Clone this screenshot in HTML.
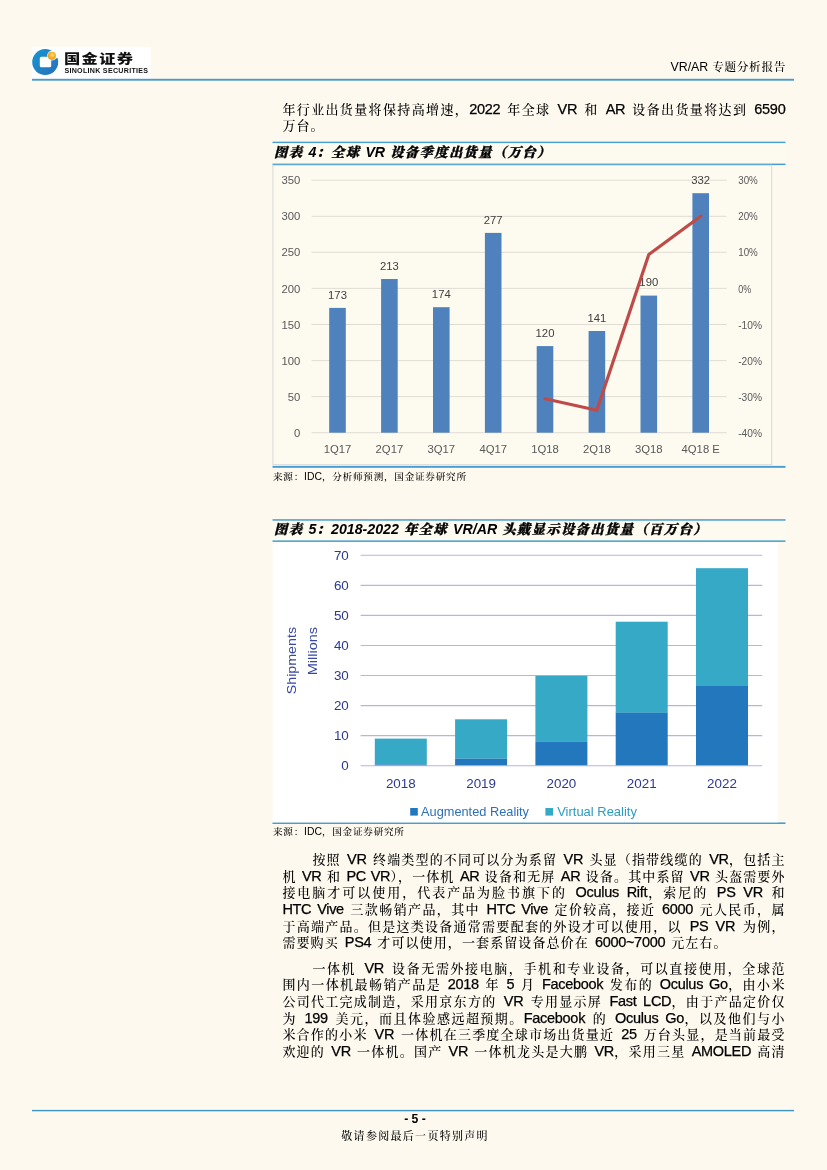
<!DOCTYPE html>
<html lang="zh-CN">
<head>
<meta charset="utf-8">
<title>VR/AR 专题分析报告</title>
<style>
html,body{margin:0;padding:0;}
body{width:827px;height:1170px;position:relative;overflow:hidden;background:#FDF9EE;
  font-family:"Liberation Sans","Noto Serif CJK SC",serif;color:#000;}
#gfx{position:absolute;left:0;top:0;width:827px;height:1170px;}
.t{position:absolute;white-space:nowrap;}
.ln{position:absolute;left:282.4px;width:503px;height:17px;line-height:17px;font-size:13px;font-weight:500;letter-spacing:0.9px;
  text-align:justify;text-align-last:justify;white-space:nowrap;color:#000;}
.ln .e{font-size:14.5px;letter-spacing:-0.3px;font-weight:400;-webkit-text-stroke:0.25px #000;}
.ln.ind{left:312.4px;width:473px;}
.cap{position:absolute;left:274px;font-size:13.4px;font-weight:900;font-style:italic;line-height:16px;white-space:nowrap;letter-spacing:1.3px;
  font-family:"Liberation Sans","Noto Serif CJK SC",serif;color:#000;-webkit-text-stroke:0.35px #000;}
.cap .e{-webkit-text-stroke:0;font-size:14.2px;letter-spacing:0;font-weight:700;}
.src{position:absolute;left:273px;font-size:9.6px;font-weight:500;letter-spacing:0.75px;line-height:12px;white-space:nowrap;color:#000;}
.src .e{font-size:10.4px;letter-spacing:0;font-weight:400;}
.zh{position:absolute;white-space:nowrap;font-weight:500;color:#000;}
.zh .e{font-weight:400;letter-spacing:0;}
.hd .e{font-size:12.4px;}
svg text{font-family:"Liberation Sans",sans-serif;}
</style>
</head>
<body>
<svg id="gfx" width="827" height="1170" viewBox="0 0 827 1170">
  <!-- header -->
  <rect x="31.8" y="47" width="119" height="32" fill="#ffffff"/>
  <rect x="32" y="78.8" width="762" height="1.9" fill="#4A9BCB"/>
  <!-- logo -->
  <g id="logo">
    <defs><linearGradient id="lg" x1="0" y1="0" x2="1" y2="1"><stop offset="0" stop-color="#1995D1"/><stop offset="1" stop-color="#2570BC"/></linearGradient>
    <radialGradient id="og" cx="0.55" cy="0.4" r="0.6"><stop offset="0" stop-color="#FFE27A"/><stop offset="0.5" stop-color="#F7B52C"/><stop offset="1" stop-color="#E99A1C"/></radialGradient></defs>
    <circle cx="45.2" cy="62.1" r="13" fill="url(#lg)"/>
    <rect x="39.8" y="56.8" width="11.4" height="10.5" rx="1.6" fill="#ffffff"/>
    <circle cx="52.1" cy="55.6" r="4.9" fill="#ffffff"/>
    <path d="M50.5 57 L54 50 L60 56 L56 58.5 Z" fill="#ffffff"/>
    <circle cx="51.9" cy="55.8" r="4.1" fill="url(#og)"/>
  </g>
  <!-- footer line -->
  <rect x="32" y="1109.9" width="762" height="1.4" fill="#3E93C6"/>
  <!-- caption rules -->
  <rect x="272.5" y="142.9" width="513" height="21" fill="#FDFAF0"/>
  <rect x="272.5" y="141.7" width="513" height="1.4" fill="#459DD0"/>
  <rect x="272.5" y="163.6" width="513" height="1.5" fill="#459DD0"/>
  <rect x="272.5" y="465.9" width="513" height="1.9" fill="#459DD0"/>
  <rect x="272.5" y="519.9" width="513" height="21" fill="#FDFAF0"/>
  <rect x="272.5" y="519.2" width="513" height="1.5" fill="#459DD0"/>
  <rect x="272.5" y="540.4" width="513" height="1.5" fill="#459DD0"/>
  <rect x="272.5" y="822.4" width="513" height="1.6" fill="#459DD0"/>
  <g id="chart4">
<rect x="272.9" y="165.3" width="498.8" height="299.4" fill="#FDFAF0" stroke="#D9D9D9" stroke-width="1"/>
<line x1="311.6" y1="432.7" x2="726.6" y2="432.7" stroke="#E0DDD5" stroke-width="1"/>
<text x="300.4" y="436.8" font-size="11.3" fill="#595959" text-anchor="end">0</text>
<text x="738.2" y="436.8" font-size="11.3" fill="#595959" textLength="23.8" lengthAdjust="spacingAndGlyphs">-40%</text>
<line x1="311.6" y1="396.6" x2="726.6" y2="396.6" stroke="#E0DDD5" stroke-width="1"/>
<text x="300.4" y="400.7" font-size="11.3" fill="#595959" text-anchor="end">50</text>
<text x="738.2" y="400.7" font-size="11.3" fill="#595959" textLength="23.8" lengthAdjust="spacingAndGlyphs">-30%</text>
<line x1="311.6" y1="360.6" x2="726.6" y2="360.6" stroke="#E0DDD5" stroke-width="1"/>
<text x="300.4" y="364.7" font-size="11.3" fill="#595959" text-anchor="end">100</text>
<text x="738.2" y="364.7" font-size="11.3" fill="#595959" textLength="23.8" lengthAdjust="spacingAndGlyphs">-20%</text>
<line x1="311.6" y1="324.5" x2="726.6" y2="324.5" stroke="#E0DDD5" stroke-width="1"/>
<text x="300.4" y="328.6" font-size="11.3" fill="#595959" text-anchor="end">150</text>
<text x="738.2" y="328.6" font-size="11.3" fill="#595959" textLength="23.8" lengthAdjust="spacingAndGlyphs">-10%</text>
<line x1="311.6" y1="288.4" x2="726.6" y2="288.4" stroke="#E0DDD5" stroke-width="1"/>
<text x="300.4" y="292.5" font-size="11.3" fill="#595959" text-anchor="end">200</text>
<text x="738.2" y="292.5" font-size="11.3" fill="#595959" textLength="13.0" lengthAdjust="spacingAndGlyphs">0%</text>
<line x1="311.6" y1="252.3" x2="726.6" y2="252.3" stroke="#E0DDD5" stroke-width="1"/>
<text x="300.4" y="256.4" font-size="11.3" fill="#595959" text-anchor="end">250</text>
<text x="738.2" y="256.4" font-size="11.3" fill="#595959" textLength="19.6" lengthAdjust="spacingAndGlyphs">10%</text>
<line x1="311.6" y1="216.3" x2="726.6" y2="216.3" stroke="#E0DDD5" stroke-width="1"/>
<text x="300.4" y="220.4" font-size="11.3" fill="#595959" text-anchor="end">300</text>
<text x="738.2" y="220.4" font-size="11.3" fill="#595959" textLength="19.6" lengthAdjust="spacingAndGlyphs">20%</text>
<line x1="311.6" y1="180.2" x2="726.6" y2="180.2" stroke="#E0DDD5" stroke-width="1"/>
<text x="300.4" y="184.3" font-size="11.3" fill="#595959" text-anchor="end">350</text>
<text x="738.2" y="184.3" font-size="11.3" fill="#595959" textLength="19.6" lengthAdjust="spacingAndGlyphs">30%</text>
<rect x="329.2" y="307.9" width="16.6" height="124.8" fill="#4F81BD"/>
<text x="337.5" y="298.7" font-size="11.3" fill="#404040" text-anchor="middle">173</text>
<text x="337.5" y="453.3" font-size="11.3" fill="#595959" text-anchor="middle">1Q17</text>
<rect x="381.1" y="279.0" width="16.6" height="153.7" fill="#4F81BD"/>
<text x="389.4" y="269.8" font-size="11.3" fill="#404040" text-anchor="middle">213</text>
<text x="389.4" y="453.3" font-size="11.3" fill="#595959" text-anchor="middle">2Q17</text>
<rect x="433.0" y="307.2" width="16.6" height="125.5" fill="#4F81BD"/>
<text x="441.3" y="298.0" font-size="11.3" fill="#404040" text-anchor="middle">174</text>
<text x="441.3" y="453.3" font-size="11.3" fill="#595959" text-anchor="middle">3Q17</text>
<rect x="484.9" y="232.9" width="16.6" height="199.8" fill="#4F81BD"/>
<text x="493.2" y="223.7" font-size="11.3" fill="#404040" text-anchor="middle">277</text>
<text x="493.2" y="453.3" font-size="11.3" fill="#595959" text-anchor="middle">4Q17</text>
<rect x="536.7" y="346.1" width="16.6" height="86.6" fill="#4F81BD"/>
<text x="545.0" y="336.9" font-size="11.3" fill="#404040" text-anchor="middle">120</text>
<text x="545.0" y="453.3" font-size="11.3" fill="#595959" text-anchor="middle">1Q18</text>
<rect x="588.6" y="331.0" width="16.6" height="101.7" fill="#4F81BD"/>
<text x="596.9" y="321.8" font-size="11.3" fill="#404040" text-anchor="middle">141</text>
<text x="596.9" y="453.3" font-size="11.3" fill="#595959" text-anchor="middle">2Q18</text>
<rect x="640.5" y="295.6" width="16.6" height="137.1" fill="#4F81BD"/>
<text x="648.8" y="286.4" font-size="11.3" fill="#404040" text-anchor="middle">190</text>
<text x="648.8" y="453.3" font-size="11.3" fill="#595959" text-anchor="middle">3Q18</text>
<rect x="692.4" y="193.2" width="16.6" height="239.5" fill="#4F81BD"/>
<text x="700.7" y="184.0" font-size="11.3" fill="#404040" text-anchor="middle">332</text>
<text x="700.7" y="453.3" font-size="11.3" fill="#595959" text-anchor="middle">4Q18 E</text>
<polyline points="545.0,398.8 596.9,410.3 648.8,254.5 700.7,216.3" fill="none" stroke="#BE4B48" stroke-width="3.2" stroke-linejoin="round" stroke-linecap="round"/>
</g>
  <g id="chart5">
<rect x="272.5" y="542.3" width="505.5" height="280" fill="#ffffff"/>
<line x1="360.6" y1="765.7" x2="762.2" y2="765.7" stroke="#B6B5DF" stroke-width="1.1"/>
<text x="348.8" y="770.1" font-size="13.4" fill="#2B3990" text-anchor="end">0</text>
<line x1="360.6" y1="735.6" x2="762.2" y2="735.6" stroke="#B6B5DF" stroke-width="1.1"/>
<text x="348.8" y="740.0" font-size="13.4" fill="#2B3990" text-anchor="end">10</text>
<line x1="360.6" y1="705.6" x2="762.2" y2="705.6" stroke="#B6B5DF" stroke-width="1.1"/>
<text x="348.8" y="710.0" font-size="13.4" fill="#2B3990" text-anchor="end">20</text>
<line x1="360.6" y1="675.5" x2="762.2" y2="675.5" stroke="#B6B5DF" stroke-width="1.1"/>
<text x="348.8" y="679.9" font-size="13.4" fill="#2B3990" text-anchor="end">30</text>
<line x1="360.6" y1="645.5" x2="762.2" y2="645.5" stroke="#B6B5DF" stroke-width="1.1"/>
<text x="348.8" y="649.9" font-size="13.4" fill="#2B3990" text-anchor="end">40</text>
<line x1="360.6" y1="615.4" x2="762.2" y2="615.4" stroke="#B6B5DF" stroke-width="1.1"/>
<text x="348.8" y="619.8" font-size="13.4" fill="#2B3990" text-anchor="end">50</text>
<line x1="360.6" y1="585.4" x2="762.2" y2="585.4" stroke="#B6B5DF" stroke-width="1.1"/>
<text x="348.8" y="589.8" font-size="13.4" fill="#2B3990" text-anchor="end">60</text>
<line x1="360.6" y1="555.3" x2="762.2" y2="555.3" stroke="#B6B5DF" stroke-width="1.1"/>
<text x="348.8" y="559.7" font-size="13.4" fill="#2B3990" text-anchor="end">70</text>
<rect x="374.8" y="738.6" width="52" height="25.8" fill="#36A9C6"/>
<rect x="374.8" y="764.4" width="52" height="0.9" fill="#2377BC"/>
<text x="400.8" y="787.9" font-size="13.4" fill="#2B3990" text-anchor="middle">2018</text>
<rect x="455.1" y="719.3" width="52" height="39.4" fill="#36A9C6"/>
<rect x="455.1" y="758.7" width="52" height="6.6" fill="#2377BC"/>
<text x="481.1" y="787.9" font-size="13.4" fill="#2B3990" text-anchor="middle">2019</text>
<rect x="535.4" y="675.8" width="52" height="66.1" fill="#36A9C6"/>
<rect x="535.4" y="741.9" width="52" height="23.4" fill="#2377BC"/>
<text x="561.4" y="787.9" font-size="13.4" fill="#2B3990" text-anchor="middle">2020</text>
<rect x="615.7" y="621.7" width="52" height="91.1" fill="#36A9C6"/>
<rect x="615.7" y="712.7" width="52" height="52.6" fill="#2377BC"/>
<text x="641.7" y="787.9" font-size="13.4" fill="#2B3990" text-anchor="middle">2021</text>
<rect x="696.0" y="568.2" width="52" height="117.8" fill="#36A9C6"/>
<rect x="696.0" y="686.0" width="52" height="79.3" fill="#2377BC"/>
<text x="722.0" y="787.9" font-size="13.4" fill="#2B3990" text-anchor="middle">2022</text>
<text transform="translate(295.5,627) rotate(-90)" font-size="13.4" fill="#3949A3" text-anchor="end" textLength="67.3" lengthAdjust="spacingAndGlyphs">Shipments</text>
<text transform="translate(316.5,627) rotate(-90)" font-size="13.4" fill="#3949A3" text-anchor="end" textLength="48.3" lengthAdjust="spacingAndGlyphs">Millions</text>
<rect x="410.2" y="808" width="7.6" height="7.6" fill="#2377BC"/>
<text x="421" y="816.1" font-size="13.4" fill="#2E6FB7" textLength="108" lengthAdjust="spacingAndGlyphs">Augmented Reality</text>
<rect x="545.4" y="808" width="7.6" height="7.6" fill="#36A9C6"/>
<text x="557.2" y="816.1" font-size="13.4" fill="#2E9CC0" textLength="79.7" lengthAdjust="spacingAndGlyphs">Virtual Reality</text>
</g>
</svg>

<div class="t" style="left:64.2px;top:50.6px;font:900 12.6px/17px 'Liberation Sans','Noto Sans CJK SC',sans-serif;color:#111;letter-spacing:1.05px;transform-origin:0 0;transform:scaleX(1.29);">国金证券</div>
<div class="t" style="left:64.4px;top:66.9px;font:bold 7.1px/9px 'Liberation Sans',sans-serif;color:#111;letter-spacing:0.29px;">SINOLINK SECURITIES</div>
<div class="zh hd" style="right:41px;top:59.2px;font-size:11.6px;letter-spacing:0.7px;line-height:15px;"><span class="e">VR/AR</span> 专题分析报告</div>

<div class="ln" style="top:100.5px;word-spacing:2.10px">年行业出货量将保持高增速，<span class="e">2022</span> 年全球 <span class="e">VR</span> 和 <span class="e">AR</span> 设备出货量将达到 <span class="e">6590</span></div>
<div class="ln" style="top:117.1px;width:42px">万台。</div>

<div class="cap" style="top:144.3px">图表 <span class="e">4</span>：全球 <span class="e">VR</span> 设备季度出货量（万台）</div>
<div class="src" style="top:471px">来源：<span class="e">IDC</span>，分析师预测，国金证券研究所</div>

<div class="cap" style="top:521.3px">图表 <span class="e">5</span>：<span class="e">2018-2022</span> 年全球 <span class="e">VR/AR</span> 头戴显示设备出货量（百万台）</div>
<div class="src" style="top:826px">来源：<span class="e">IDC</span>，国金证券研究所</div>

<div class="ln ind" style="top:851px;word-spacing:1.55px">按照 <span class="e">VR</span> 终端类型的不同可以分为系留 <span class="e">VR</span> 头显（指带线缆的 <span class="e">VR</span>，包括主</div>
<div class="ln" style="top:867.7px;word-spacing:0.70px">机 <span class="e">VR</span> 和 <span class="e">PC VR</span>），一体机 <span class="e">AR</span> 设备和无屏 <span class="e">AR</span> 设备。其中系留 <span class="e">VR</span> 头盔需要外</div>
<div class="ln" style="top:884.3px;word-spacing:3.00px">接电脑才可以使用，代表产品为脸书旗下的 <span class="e">Oculus Rift</span>，索尼的 <span class="e">PS VR</span> 和</div>
<div class="ln" style="top:901px;word-spacing:1.63px"><span class="e">HTC Vive</span> 三款畅销产品，其中 <span class="e">HTC Vive</span> 定价较高，接近 <span class="e">6000</span> 元人民币，属</div>
<div class="ln" style="top:917.6px;word-spacing:3.00px">于高端产品。但是这类设备通常需要配套的外设才可以使用，以 <span class="e">PS VR</span> 为例，</div>
<div class="ln" style="top:934.3px;width:445px;word-spacing:1.24px">需要购买 <span class="e">PS4</span> 才可以使用，一套系留设备总价在 <span class="e">6000~7000</span> 元左右。</div>

<div class="ln ind" style="top:959.8px;word-spacing:3.00px">一体机 <span class="e">VR</span> 设备无需外接电脑，手机和专业设备，可以直接使用，全球范</div>
<div class="ln" style="top:976.4px;word-spacing:1.57px">围内一体机最畅销产品是 <span class="e">2018</span> 年 <span class="e">5</span> 月 <span class="e">Facebook</span> 发布的 <span class="e">Oculus Go</span>，由小米</div>
<div class="ln" style="top:993.1px;word-spacing:2.51px">公司代工完成制造，采用京东方的 <span class="e">VR</span> 专用显示屏 <span class="e">Fast LCD</span>，由于产品定价仅</div>
<div class="ln" style="top:1009.7px;word-spacing:2.64px">为 <span class="e">199</span> 美元，而且体验感远超预期。<span class="e">Facebook</span> 的 <span class="e">Oculus Go</span>，以及他们与小</div>
<div class="ln" style="top:1026.4px;word-spacing:2.17px">米合作的小米 <span class="e">VR</span> 一体机在三季度全球市场出货量近 <span class="e">25</span> 万台头显，是当前最受</div>
<div class="ln" style="top:1043px;word-spacing:1.36px">欢迎的 <span class="e">VR</span> 一体机。国产 <span class="e">VR</span> 一体机龙头是大鹏 <span class="e">VR</span>，采用三星 <span class="e">AMOLED</span> 高清</div>

<div class="t" style="left:1.5px;width:827px;text-align:center;top:1112px;font:bold 12.2px/14px 'Liberation Sans',sans-serif;">- 5 -</div>
<div class="zh" style="left:1.6px;width:827px;text-align:center;top:1129px;font-size:11px;letter-spacing:1.3px;line-height:14px;">敬请参阅最后一页特别声明</div>
</body>
</html>
